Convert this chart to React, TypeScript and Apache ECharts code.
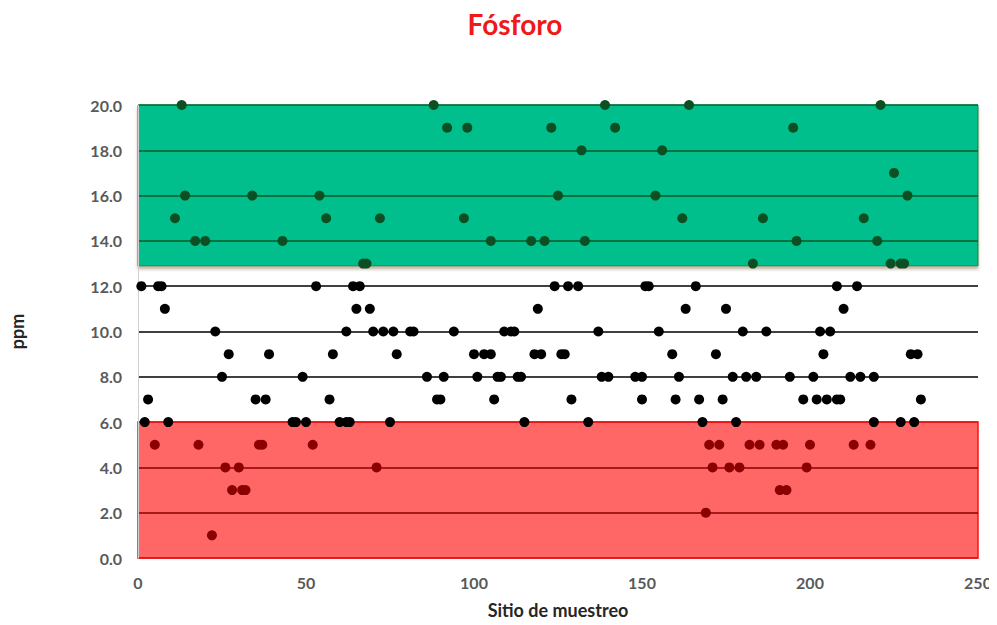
import React, { useEffect, useRef } from "react";
import * as echarts from "echarts";

const TITLE = "Fósforo";
const X_NAME = "Sitio de muestreo";
const Y_NAME = "ppm";

// Sampling site (x) and phosphorus ppm (y)
const sites = [
  13, 88, 139, 164, 221,
  92, 98, 123, 142, 195,
  132, 156,
  225,
  14, 34, 54, 125, 154, 229,
  11, 56, 72, 97, 162, 186, 216,
  17, 20, 43, 105, 117, 121, 133, 196, 220,
  67, 68, 183, 224, 227, 228,
  1, 6, 7, 53, 64, 66, 124, 128, 131, 151, 152, 166, 208, 214,
  8, 65, 69, 119, 163, 175, 210,
  23, 62, 70, 73, 76, 81, 82, 94, 109, 111, 112, 137, 155, 180, 187, 203, 206,
  27, 39, 58, 77, 100, 103, 105, 118, 120, 126, 127, 159, 172, 204, 230, 232,
  25, 49, 86, 91, 101, 107, 108, 113, 114, 138, 140, 148, 150, 161, 177, 181, 184, 194, 201, 212, 215, 219,
  3, 35, 38, 57, 89, 90, 106, 129, 150, 160, 167, 174, 198, 202, 205, 208, 209, 233,
  2, 9, 46, 47, 50, 60, 62, 63, 75, 115, 134, 168, 178, 219, 227, 231,
  5, 18, 36, 37, 52, 170, 173, 182, 185, 190, 192, 200, 213, 218,
  26, 30, 71, 171, 176, 179, 199,
  28, 31, 32, 191, 193,
  169,
  22,
];
const ppm = [
  20, 20, 20, 20, 20,
  19, 19, 19, 19, 19,
  18, 18,
  17,
  16, 16, 16, 16, 16, 16,
  15, 15, 15, 15, 15, 15, 15,
  14, 14, 14, 14, 14, 14, 14, 14, 14,
  13, 13, 13, 13, 13, 13,
  12, 12, 12, 12, 12, 12, 12, 12, 12, 12, 12, 12, 12, 12,
  11, 11, 11, 11, 11, 11, 11,
  10, 10, 10, 10, 10, 10, 10, 10, 10, 10, 10, 10, 10, 10, 10, 10, 10,
  9, 9, 9, 9, 9, 9, 9, 9, 9, 9, 9, 9, 9, 9, 9, 9,
  8, 8, 8, 8, 8, 8, 8, 8, 8, 8, 8, 8, 8, 8, 8, 8, 8, 8, 8, 8, 8, 8,
  7, 7, 7, 7, 7, 7, 7, 7, 7, 7, 7, 7, 7, 7, 7, 7, 7, 7,
  6, 6, 6, 6, 6, 6, 6, 6, 6, 6, 6, 6, 6, 6, 6, 6,
  5, 5, 5, 5, 5, 5, 5, 5, 5, 5, 5, 5, 5, 5,
  4, 4, 4, 4, 4, 4, 4,
  3, 3, 3, 3, 3,
  2,
  1,
];

// Bands
const highBand = [12.9, 20];
const lowBand = [0, 6];

// Grid line colours per y tick (0, 2, ..., 20)
const yTickColors = [
  "#e01010", "#8a0000", "#8a0000", "#e81010", "#000000", "#000000",
  "#000000", "#0a5a2a", "#0a5a2a", "#0a5a2a", "#0a6a32",
];

export default function App() {
  const ref = useRef<HTMLDivElement>(null);
  useEffect(() => {
    if (!ref.current) return;
    const chart = echarts.init(ref.current, undefined, { renderer: "svg" });
    const data = sites.map((s, i) => [s, ppm[i]]);
    chart.setOption({
      animation: false,
      backgroundColor: "#ffffff",
      title: {
        text: TITLE,
        left: 510,
        textAlign: "center",
        top: 5,
        textStyle: {
          color: "#f01818",
          fontSize: 28,
          fontWeight: "bold",
          fontFamily: "Lato",
        },
      },
      grid: { left: 138, right: 19, top: 105, bottom: 67 },
      xAxis: {
        type: "value",
        min: 0,
        max: 250,
        interval: 50,
        name: X_NAME,
        nameLocation: "middle",
        nameGap: 43,
        nameTextStyle: {
          color: "#262626",
          fontSize: 18,
          fontWeight: "bold",
          fontFamily: "Lato",
        },
        axisLine: { show: false },
        axisTick: { show: false },
        splitLine: { show: false },
        axisLabel: {
          color: "#595959",
          fontSize: 16,
          fontWeight: "bold",
          fontFamily: "Lato",
          margin: 16,
        },
      },
      yAxis: {
        type: "value",
        min: 0,
        max: 20,
        interval: 2,
        z: 3,
        name: Y_NAME,
        nameLocation: "middle",
        nameGap: 112,
        nameTextStyle: {
          color: "#262626",
          fontSize: 18,
          fontWeight: "bold",
          fontFamily: "Lato",
        },
        axisLine: { show: true, lineStyle: { color: "#d0d0d0", width: 1 } },
        axisTick: { show: false },
        splitLine: {
          show: true,
          lineStyle: { color: yTickColors, width: 1.6 },
        },
        axisLabel: {
          color: "#595959",
          fontSize: 16,
          fontWeight: "bold",
          fontFamily: "Lato",
          margin: 16,
          formatter: (v: number) => v.toFixed(1),
        },
      },
      series: [
        {
          type: "scatter",
          z: 0,
          data: [],
          silent: true,
          markArea: {
            silent: true,
            z: 0,
            data: [
              [
                {
                  xAxis: 0,
                  yAxis: highBand[0],
                  itemStyle: {
                    color: "#00bf8c",
                    borderColor: "#0c8a48",
                    borderWidth: 1,
                    shadowColor: "rgba(120,90,60,0.45)",
                    shadowBlur: 3,
                    shadowOffsetY: 3,
                  },
                },
                { xAxis: 250, yAxis: highBand[1] },
              ],
              [
                {
                  xAxis: 0,
                  yAxis: lowBand[0],
                  itemStyle: {
                    color: "#ff6767",
                    borderColor: "#ff1010",
                    borderWidth: 1.5,
                  },
                },
                { xAxis: 250, yAxis: lowBand[1] },
              ],
            ],
          },
        },
        {
          type: "scatter",
          z: 5,
          symbolSize: 10,
          data,
          itemStyle: {
            opacity: 1,
            color: (p: any) => {
              const y = p.value[1];
              if (y >= 13) return "#0b4f22";
              if (y < 6) return "#8b0000";
              return "#000000";
            },
          },
        },
      ],
    });
    return () => chart.dispose();
  }, []);
  return <div ref={ref} style={{ width: 997, height: 625, margin: -8 }} />;
}
